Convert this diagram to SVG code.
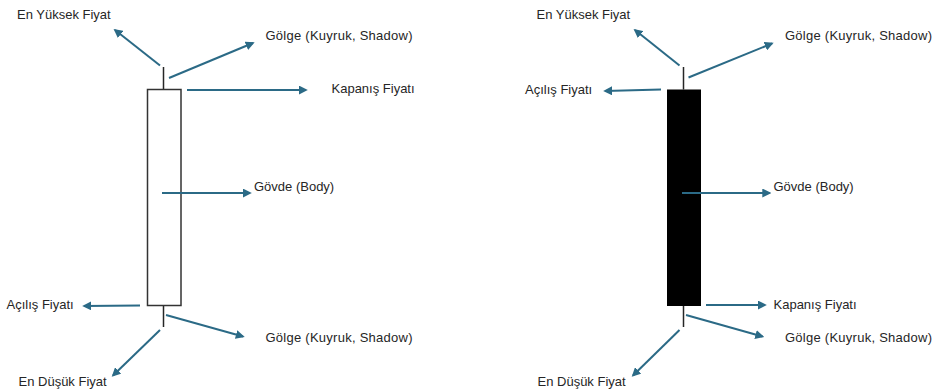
<svg xmlns="http://www.w3.org/2000/svg" width="942" height="391" viewBox="0 0 942 391">
<defs>
<marker id="ah" viewBox="0 0 10 10" refX="8" refY="5" markerWidth="4.5" markerHeight="4.5" orient="auto" markerUnits="strokeWidth">
<path d="M0,0 L10,5 L0,10 Z" fill="#2B6A86"/>
</marker>
</defs>
<style>
text{font-family:"Liberation Sans",Arial,sans-serif;font-size:13px;fill:#262626}
.a{stroke:#2B6A86;stroke-width:2;fill:none;marker-end:url(#ah)}
.w{stroke:#262626;stroke-width:1.5}
</style>
<rect width="942" height="391" fill="#ffffff"/>
<g id="candle-white">
<line class="w" x1="163.5" y1="67" x2="163.5" y2="89.5"/>
<line class="w" x1="163.5" y1="306" x2="163.5" y2="327"/>
<rect x="147.5" y="89.5" width="33.5" height="216" fill="#ffffff" stroke="#333333" stroke-width="1.5"/>
</g>
<g id="candle-black">
<line class="w" x1="683.5" y1="67" x2="683.5" y2="89.5"/>
<line class="w" x1="683.5" y1="306" x2="683.5" y2="327"/>
<rect x="667" y="89.5" width="34" height="216.5" fill="#000000"/>
</g>
<g id="connectors">
<line class="a" x1="160" y1="65.5" x2="115" y2="30"/>
<line class="a" x1="169" y1="78" x2="253" y2="43"/>
<line class="a" x1="187" y1="90" x2="306" y2="90"/>
<line class="a" x1="162" y1="193" x2="250" y2="193"/>
<line class="a" x1="140" y1="305.5" x2="84" y2="306"/>
<line class="a" x1="166" y1="315" x2="243" y2="336.5"/>
<line class="a" x1="160" y1="330" x2="113" y2="375.5"/>
<line class="a" x1="679.5" y1="65.5" x2="635" y2="30"/>
<line class="a" x1="688.5" y1="77.5" x2="772" y2="43.5"/>
<line class="a" x1="661" y1="89.5" x2="605" y2="91"/>
<line class="a" x1="682" y1="193" x2="769.5" y2="193"/>
<line class="a" x1="706" y1="305" x2="765" y2="305"/>
<line class="a" x1="686" y1="315" x2="762.5" y2="336.5"/>
<line class="a" x1="679.5" y1="330" x2="633" y2="375.5"/>
</g>
<g id="labels-left">
<text x="17" y="19">En Yüksek Fiyat</text>
<text x="265.5" y="40" textLength="147">Gölge (Kuyruk, Shadow)</text>
<text x="331.5" y="93">Kapanış Fiyatı</text>
<text x="254" y="191">Gövde (Body)</text>
<text x="6.5" y="309">Açılış Fiyatı</text>
<text x="265.5" y="342" textLength="147">Gölge (Kuyruk, Shadow)</text>
<text x="18.5" y="386">En Düşük Fiyat</text>
</g>
<g id="labels-right">
<text x="536.5" y="19">En Yüksek Fiyat</text>
<text x="785" y="40" textLength="147">Gölge (Kuyruk, Shadow)</text>
<text x="525" y="94">Açılış Fiyatı</text>
<text x="773.5" y="191">Gövde (Body)</text>
<text x="773.5" y="308.5">Kapanış Fiyatı</text>
<text x="785" y="342" textLength="147">Gölge (Kuyruk, Shadow)</text>
<text x="537.5" y="386">En Düşük Fiyat</text>
</g>
</svg>
